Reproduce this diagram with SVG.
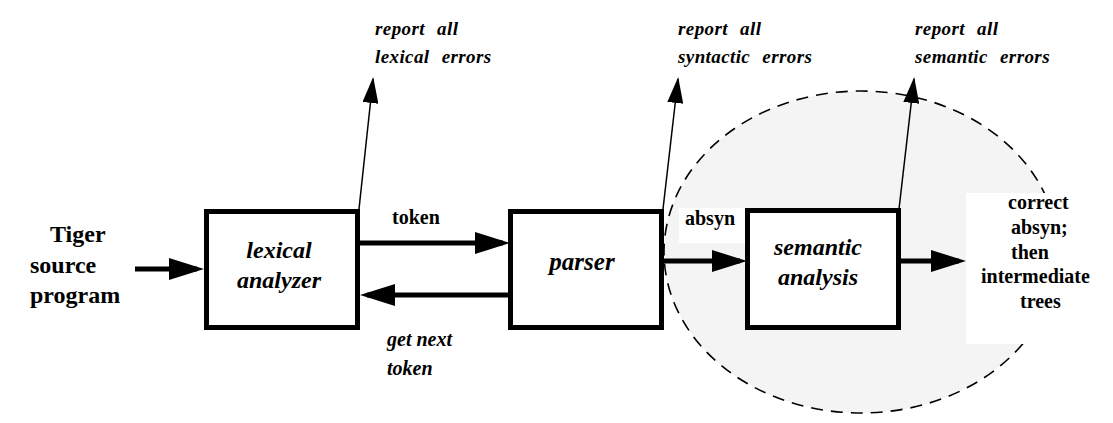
<svg xmlns="http://www.w3.org/2000/svg" width="1113" height="423" viewBox="0 0 1113 423" font-family="Liberation Serif, serif">
<style>
.box{fill:#fff;stroke:#000;stroke-width:5}
.t{font-weight:bold;fill:#000}
.bi{font-style:italic}
.big{font-size:24px}
.lbl{font-size:20px}
.err{font-size:19px;letter-spacing:0.4px;word-spacing:7px}
.thick{stroke:#000;stroke-width:5;fill:none}
.thin{stroke:#000;stroke-width:1.5;fill:none}
</style>
<defs>
<marker id="ah" viewBox="0 0 35 22" markerWidth="35" markerHeight="22" refX="28" refY="11" orient="auto" markerUnits="userSpaceOnUse">
<path d="M0,0 L35,11 L0,22 z" fill="#000"/>
</marker>
<marker id="ahs" viewBox="0 0 26 16" markerWidth="26" markerHeight="16" refX="24" refY="8" orient="auto" markerUnits="userSpaceOnUse">
<path d="M0,0 L26,8 L0,16 z" fill="#000"/>
</marker>
</defs>
<rect width="1113" height="423" fill="#fff"/>
<g id="scope">
<ellipse cx="861" cy="252" rx="197" ry="161" fill="#f4f4f4" stroke="#000" stroke-width="1.6" stroke-dasharray="12 8"/>
<rect x="966" y="193" width="147" height="151" fill="#fff"/>
<rect x="679" y="208" width="66" height="35" fill="#fff"/>
</g>
<g id="connectors">
<line class="thick" x1="135" y1="269" x2="197" y2="269" marker-end="url(#ah)"/>
<line class="thick" x1="360" y1="243" x2="503" y2="243" marker-end="url(#ah)"/>
<line class="thick" x1="508" y1="295" x2="367" y2="295" marker-end="url(#ah)"/>
<line class="thick" x1="664" y1="261" x2="740" y2="261" marker-end="url(#ah)"/>
<line class="thick" x1="901" y1="261" x2="959" y2="261" marker-end="url(#ah)"/>
<line class="thin" x1="359" y1="209" x2="373" y2="79" marker-end="url(#ahs)"/>
<line class="thin" x1="663" y1="209" x2="678" y2="79" marker-end="url(#ahs)"/>
<line class="thin" x1="899" y1="209" x2="914" y2="79" marker-end="url(#ahs)"/>
</g>
<g id="lexical" font-family="Liberation Serif, serif">
<rect class="box" x="206.5" y="211.5" width="151" height="116"/>
<text class="t bi big" x="279" y="258" text-anchor="middle">lexical</text>
<text class="t bi big" x="279" y="288" text-anchor="middle">analyzer</text>
</g>
<g id="parser" font-family="Liberation Serif, serif">
<rect class="box" x="510.5" y="211.5" width="151" height="116"/>
<text class="t bi big" x="582" y="270" text-anchor="middle" style="font-size:25px">parser</text>
</g>
<g id="semantic" font-family="Liberation Serif, serif">
<rect class="box" x="747.5" y="210.5" width="151" height="117"/>
<text class="t bi big" x="818" y="255" text-anchor="middle">semantic</text>
<text class="t bi big" x="818" y="285" text-anchor="middle">analysis</text>
</g>
<g id="source" font-family="Liberation Serif, serif">
<text class="t" x="50" y="242" font-size="24">Tiger</text>
<text class="t" x="30" y="273" font-size="24">source</text>
<text class="t" x="30" y="303" font-size="24">program</text>
</g>
<g id="output" font-family="Liberation Serif, serif">
<text class="t lbl" x="1008" y="209">correct</text>
<text class="t lbl" x="1011" y="234">absyn;</text>
<text class="t lbl" x="1011" y="259">then</text>
<text class="t lbl" x="981" y="283">intermediate</text>
<text class="t lbl" x="1020" y="308">trees</text>
</g>
<g id="labels" font-family="Liberation Serif, serif">
<text class="t lbl" x="392" y="224">token</text>
<text class="t lbl bi" x="387" y="346">get next</text>
<text class="t lbl bi" x="387" y="375">token</text>
<text class="t lbl" x="685" y="225">absyn</text>
</g>
<g id="errors" font-family="Liberation Serif, serif">
<text class="t bi err" x="375" y="35">report all</text>
<text class="t bi err" x="375" y="63">lexical errors</text>
<text class="t bi err" x="678" y="35">report all</text>
<text class="t bi err" x="678" y="63">syntactic errors</text>
<text class="t bi err" x="915" y="35">report all</text>
<text class="t bi err" x="915" y="63">semantic errors</text>
</g>
</svg>
